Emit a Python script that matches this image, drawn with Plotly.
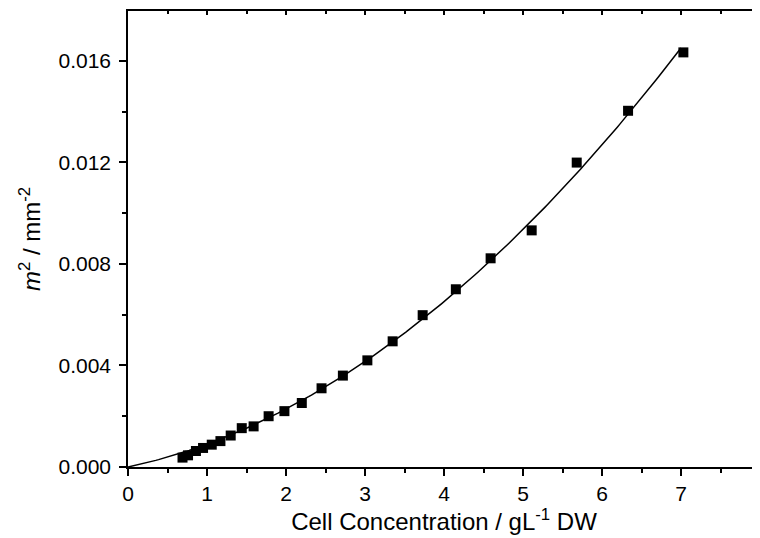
import numpy as np
import plotly.graph_objects as go

# Data
cell_conc = [0.69, 0.76, 0.86, 0.95, 1.06, 1.17, 1.30, 1.44, 1.59, 1.78, 1.98, 2.20,
             2.45, 2.72, 3.03, 3.35, 3.73, 4.15, 4.59, 5.11, 5.68, 6.33, 7.03]
m2_values = [0.00037, 0.00046, 0.00063, 0.00075, 0.00088, 0.00102, 0.00124, 0.00153,
             0.00160, 0.00200, 0.00220, 0.00252, 0.00310, 0.00360, 0.00420, 0.00495,
             0.00598, 0.00700, 0.00822, 0.00932, 0.01199, 0.01403, 0.01633]
x_ticks = [0, 1, 2, 3, 4, 5, 6, 7, 8]
y_ticks = [0.000, 0.004, 0.008, 0.012, 0.016]
y_tick_labels = ["0.000", "0.004", "0.008", "0.012", "0.016"]

# Least-squares fit through origin: y = a*x + b*x^2
xa = np.array(cell_conc)
ya = np.array(m2_values)
A = np.vstack([xa, xa**2]).T
coef, *_ = np.linalg.lstsq(A, ya, rcond=None)
xf = np.linspace(0, 7.0, 200)
yf = coef[0] * xf + coef[1] * xf**2

family = "Liberation Sans, Arial, sans-serif"
tick_font = dict(family=family, size=21, color="black")
title_font = dict(family=family, size=24, color="black")

fig = go.Figure()
fig.add_trace(go.Scatter(x=xf, y=yf, mode="lines",
                         line=dict(color="black", width=1.5), showlegend=False))
fig.add_trace(go.Scatter(x=cell_conc, y=m2_values, mode="markers",
                         marker=dict(symbol="square", size=10, color="black"),
                         showlegend=False))
# top axis with inward ticks
fig.add_trace(go.Scatter(x=[0], y=[None], xaxis="x2", showlegend=False))

fig.update_layout(
    width=752, height=530,
    margin=dict(l=120, r=0, t=3, b=71, autoexpand=False),
    paper_bgcolor="white", plot_bgcolor="white",
    font=tick_font,
    xaxis=dict(range=[0, 8], tickvals=x_ticks, showgrid=False, zeroline=False,
               showline=True, linecolor="black", linewidth=1.5,
               ticks="outside", ticklen=7, tickwidth=1.5, tickcolor="black",
               minor=dict(ticks="outside", dtick=0.5, ticklen=4, tickwidth=1.5, tickcolor="black"),
               tickfont=tick_font, automargin=False, ticklabeloverflow="allow",
               title=dict(text="Cell Concentration / gL<sup>-1</sup> DW", font=title_font, standoff=4)),
    xaxis2=dict(range=[0, 8], overlaying="x", side="top", showgrid=False, zeroline=False,
                showline=True, linecolor="black", linewidth=1.5,
                tickvals=x_ticks, ticks="inside", ticklen=4, tickwidth=1.5, tickcolor="black",
                showticklabels=False, automargin=False,
                minor=dict(ticks="inside", dtick=0.5, ticklen=3, tickwidth=1.5, tickcolor="black")),
    yaxis=dict(range=[0, 0.01796], tickvals=y_ticks, ticktext=y_tick_labels,
               showgrid=False, zeroline=False,
               showline=True, linecolor="black", linewidth=1.5,
               ticks="outside", ticklen=7, tickwidth=1.5, tickcolor="black",
               minor=dict(ticks="outside", dtick=0.002, ticklen=4, tickwidth=1.5, tickcolor="black"),
               tickfont=tick_font, automargin=False, ticklabelstandoff=4,
               title=dict(text="<i>m</i><sup>2</sup> / mm<sup>-2</sup>", font=title_font, standoff=11)),
)

fig.write_html("out.html")
